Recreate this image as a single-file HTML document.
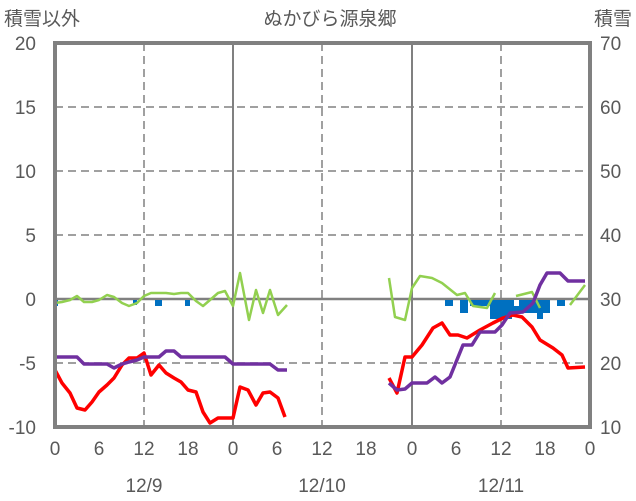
<!DOCTYPE html><html><head><meta charset="utf-8"><style>body{margin:0;background:#fff}svg{display:block}text{font-family:"Liberation Sans","Noto Sans CJK JP",sans-serif;fill:#595959}</style></head><body>
<svg width="636" height="501" viewBox="0 0 636 501">
<g stroke="#808080" stroke-width="1.5" stroke-dasharray="8,5" fill="none">
<line x1="55" y1="107" x2="590" y2="107"/><line x1="55" y1="171" x2="590" y2="171"/><line x1="55" y1="235" x2="590" y2="235"/><line x1="55" y1="363" x2="590" y2="363"/>
<line x1="144" y1="43" x2="144" y2="427"/><line x1="322" y1="43" x2="322" y2="427"/><line x1="501" y1="43" x2="501" y2="427"/>
</g>
<g stroke="#808080" stroke-width="2"><line x1="233" y1="43" x2="233" y2="427"/><line x1="412" y1="43" x2="412" y2="427"/><line x1="55" y1="299" x2="590" y2="299" stroke-width="2.5"/></g>
<g fill="#0070c0">
<rect x="54" y="300" width="4" height="6"/><rect x="133" y="300" width="4" height="5"/><rect x="155" y="300" width="7" height="6"/><rect x="185" y="300" width="5" height="6"/>
<rect x="445" y="300" width="8" height="6"/><rect x="460" y="300" width="8" height="13"/><rect x="470" y="300" width="20" height="6"/><rect x="490" y="300" width="22" height="19"/><rect x="512" y="300" width="25" height="13"/><rect x="537" y="300" width="6" height="19"/><rect x="543" y="300" width="7" height="13"/><rect x="557" y="300" width="8" height="6"/>
</g>
<rect x="514" y="300" width="5" height="6" fill="#fff"/>
<g fill="none" stroke-linejoin="round">
<polyline stroke="#92d050" stroke-width="2.5" points="55,303 62,302 70,300 77,296 84,302 92,302 99,300 107,295 114,297 122,303 129,306 137,303 144,296 151,293 159,293 166,293 174,294 181,293 188,293 196,301 203,306 210,300 218,293 225,291 233,306 240,273 249,320 256,290 263,313 270,290 278,315 287,305"/>
<polyline stroke="#ff0000" stroke-width="3.5" points="55,370 62,383 70,393 77,408 85,410 92,402 99,392 107,385 114,378 122,365 129,358 137,358 144,353 151,375 159,365 166,373 174,378 181,382 188,390 196,392 203,412 210,423 218,418 225,418 233,418 240,387 248,390 256,405 263,393 270,392 278,398 285,417"/>
<polyline stroke="#7030a0" stroke-width="3.5" points="55,357 77,357 84,364 107,364 114,368 122,364 129,362 137,360 144,357 159,357 166,351 174,351 181,357 225,357 233,364 270,364 278,370 287,370"/>
<polyline stroke="#92d050" stroke-width="2.5" points="389,278 395,317 405,320 412,288 420,276 432,278 442,283 457,295 465,293 473,306 487,308 495,293"/>
<polyline stroke="#92d050" stroke-width="2.5" points="516,296 532,292 540,308"/>
<polyline stroke="#92d050" stroke-width="2.5" points="570,305 585,285"/>
<polyline stroke="#ff0000" stroke-width="3.5" points="389,378 397,393 405,357 412,357 422,345 433,328 442,323 450,335 458,335 467,338 480,330 493,323 503,318 513,315 522,317 532,327 540,340 553,348 562,355 568,368 585,367"/>
<polyline stroke="#7030a0" stroke-width="3.5" points="389,383 397,390 405,389 412,383 427,383 435,377 442,383 450,377 463,345 472,345 480,332 495,332 502,325 510,313 523,312 533,303 540,285 547,273 560,273 568,281 585,281"/>
</g>
<rect x="55" y="43" width="535" height="384" fill="none" stroke="#808080" stroke-width="4"/>
<g font-size="19" text-anchor="end">
<text x="36" y="50">20</text><text x="36" y="114">15</text><text x="36" y="178">10</text><text x="36" y="242">5</text><text x="36" y="306">0</text><text x="36" y="370">-5</text><text x="36" y="434">-10</text>
</g>
<g font-size="19" text-anchor="start">
<text x="600" y="50">70</text><text x="600" y="114">60</text><text x="600" y="178">50</text><text x="600" y="242">40</text><text x="600" y="306">30</text><text x="600" y="370">20</text><text x="600" y="434">10</text>
</g>
<g font-size="19" text-anchor="middle">
<text x="55" y="455">0</text><text x="99" y="455">6</text><text x="144" y="455">12</text><text x="188" y="455">18</text><text x="233" y="455">0</text><text x="277" y="455">6</text><text x="322" y="455">12</text><text x="366" y="455">18</text><text x="412" y="455">0</text><text x="456" y="455">6</text><text x="501" y="455">12</text><text x="545" y="455">18</text><text x="590" y="455">0</text>
<text x="144" y="492">12/9</text><text x="322" y="492">12/10</text><text x="501" y="492">12/11</text>
<text x="330" y="25" font-size="19">ぬかびら源泉郷</text>
</g>
<text x="4" y="25" font-size="19">積雪以外</text>
<text x="632" y="25" font-size="19" text-anchor="end">積雪</text>
</svg></body></html>
